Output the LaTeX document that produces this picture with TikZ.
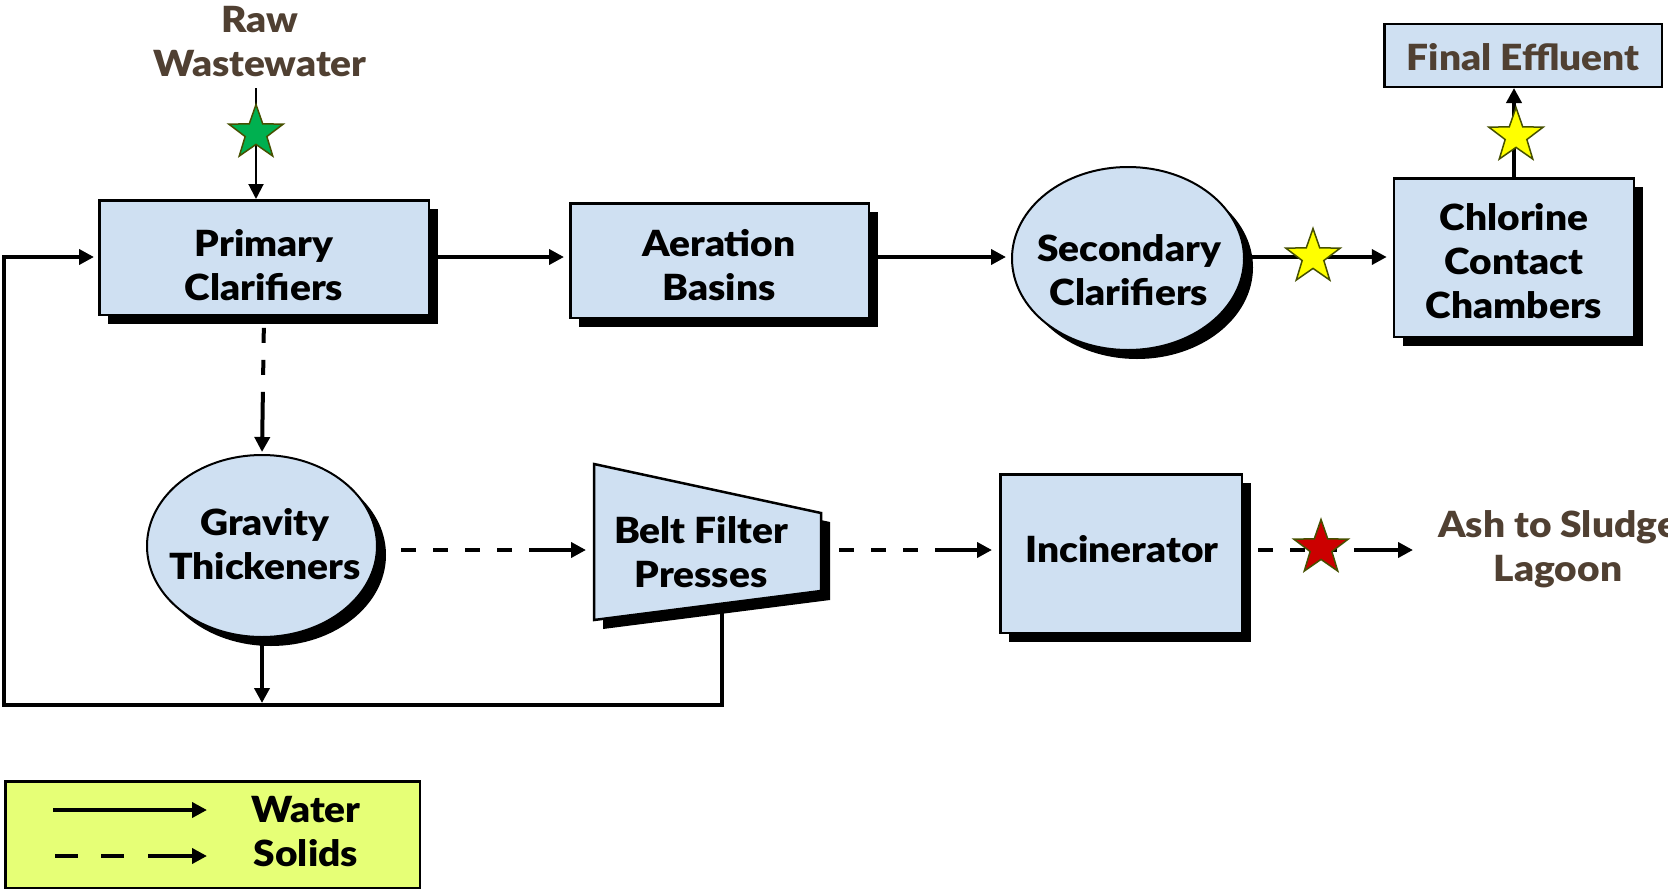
\documentclass[tikz,border=0pt]{standalone}
\usepackage{fontspec}
\setmainfont{Lato}[BoldFont={Lato Black}, BoldFeatures={FakeStretch=1.08}]
\usetikzlibrary{shapes.geometric,shadows,arrows.meta}
\definecolor{boxblue}{RGB}{207,224,242}
\definecolor{brownt}{RGB}{80,64,50}
\definecolor{legendg}{RGB}{230,255,118}
\definecolor{stargreen}{RGB}{0,176,80}
\definecolor{staredge}{RGB}{70,80,0}
\definecolor{staryellow}{RGB}{255,255,0}
\definecolor{starred}{RGB}{204,0,0}
\begin{document}
\begin{tikzpicture}[x=1pt,y=-1pt,
  lbl/.style={font=\fontsize{36}{44}\selectfont\bfseries, align=center, inner sep=0pt, anchor=north},
  shad/.style={drop shadow={shadow xshift=9pt,shadow yshift=-9pt,fill=black,opacity=1}},
  procbox/.style={rectangle, draw=black, line width=2.5pt, fill=boxblue, inner sep=0pt, shad},
  procell/.style={ellipse, draw=black, line width=2pt, fill=boxblue, inner sep=0pt, shad},
  flowtip/.style={-{Triangle[length=15pt,width=15pt]}},
  water/.style={line width=4pt, line join=miter, flowtip},
  solidsrev/.style={line width=4pt, {Triangle[length=15pt,width=15pt]}-,
     dash pattern=on #1 off 17pt on 15pt off 17pt on 15pt off 17pt on 15pt off 17pt on 15pt off 17pt on 15pt off 17pt on 15pt off 17pt on 15pt},
  solidsrev/.default=44pt,
  starnode/.style={star, star points=5, star point ratio=2.5, minimum size=57pt, inner sep=0pt, draw=staredge, line width=1.5pt}
]
\useasboundingbox (0,0) rectangle (1668,891);

% row reference lines
\coordinate (rowA) at (0,257);
\coordinate (rowB) at (0,550);

% process shapes
\node[procbox, minimum width=329.5pt, minimum height=114.5pt] (prim) at (264,257.5) {};
\node[procbox, minimum width=298.5pt, minimum height=114.5pt] (aer) at (719.5,260.5) {};
\node[procell, minimum width=232pt, minimum height=183pt] (sec) at (1128,258.5) {};
\node[procbox, minimum width=240pt, minimum height=158.5pt] (chl) at (1514,257.5) {};
\node[rectangle, draw=black, line width=2.5pt, fill=boxblue, inner sep=0pt, minimum width=277.5pt, minimum height=62.5pt] (fin) at (1523,55.5) {};
\node[procell, minimum width=230pt, minimum height=182pt] (grav) at (262,546) {};
\node[procbox, minimum width=241.5pt, minimum height=158.5pt] (inc) at (1121,553.5) {};

% belt filter press (trapezoid)
\fill[black, shift={(9,9)}] (594,464) -- (821,513) -- (821,591) -- (594,620) -- cycle;
\draw[line width=2.5pt, fill=boxblue, line join=miter] (594,464) -- (821,513) -- (821,591) -- (594,620) -- cycle;
\coordinate (beltL) at (594,550);
\coordinate (beltR) at (821,550);
\coordinate (beltB) at (722,604);

% labels
\node[lbl, text=brownt] (raw) at (260,6) {Raw\\Wastewater};
\node[lbl] (primT) at (264,229) {Primary\\Clarifiers};
\node[lbl] (aerT) at (719,229) {Aeration\\Basins};
\node[lbl] (secT) at (1129,234) {Secondary\\Clarifiers};
\node[lbl] (chlT) at (1514,203) {Chlorine\\Contact\\Chambers};
\node[lbl, text=brownt] (finT) at (1523,43) {Final Effluent};
\node[lbl] (gravT) at (265,508) {Gravity\\Thickeners};
\node[lbl] (beltT) at (701,516) {Belt Filter\\Presses};
\node[lbl] (incT) at (1122,535) {Incinerator};
\node[lbl, text=brownt] (ash) at (1558,510) {Ash to Sludge\\Lagoon};
\coordinate (ashIn) at (1413,550);

% water connectors
\coordinate (rawTop) at (256,88);
\draw[line width=2pt, flowtip] (rawTop) -- (rawTop |- prim.north);
\draw[water, shorten >=5pt] (prim.east |- rowA) -- (aer.west |- rowA);
\draw[water, shorten >=5pt] (aer.east |- rowA) -- (sec.west |- rowA);
\draw[water, shorten >=6pt] (sec.east |- rowA) -- (chl.west |- rowA);
\draw[water] (chl.north) -- (chl.north |- fin.south);
\coordinate (loopBR) at (722,705);
\coordinate (loopBL) at (4,705);
\draw[water, shorten >=4pt] (beltB) -- (loopBR) -- (loopBL) |- (prim.west |- rowA);
\coordinate (gravOut) at (262,703);
\draw[water] (grav.south) -- (gravOut);

% solids connectors (drawn from the arrow end back)
\draw[solidsrev=46pt, shorten <=2pt] (grav.north) -- (prim.south);
\draw[solidsrev=43pt, shorten <=8pt] (beltL) -- (grav.east |- rowB);
\draw[solidsrev=43pt, shorten <=7pt] (inc.west |- rowB) -- (beltR);
\draw[solidsrev=45pt] (ashIn) -- (inc.east |- rowB);

% stars
\node[starnode, fill=stargreen] (s1) at (256,133) {};
\node[starnode, fill=staryellow] (s2) at (1313,257) {};
\node[starnode, fill=staryellow] (s3) at (1516,136) {};
\node[starnode, fill=starred] (s4) at (1321,548) {};

% legend
\node[rectangle, draw=black, line width=2.5pt, fill=legendg, inner sep=0pt, minimum width=414.5pt, minimum height=106.5pt] (legend) at (212.5,834.5) {};
\coordinate (lw1) at (53,810);
\coordinate (lw2) at (207,810);
\coordinate (ls1) at (52,856);
\coordinate (ls2) at (207,856);
\draw[water] (lw1) -- (lw2);
\draw[line width=4pt, {Triangle[length=15pt,width=15pt]}-, dash pattern=on 45pt off 24pt on 23pt off 23pt on 23pt off 50pt] (ls2) -- (ls1);
\node[lbl] (legT) at (306,796) {Water\\Solids};
\end{tikzpicture}
\end{document}
